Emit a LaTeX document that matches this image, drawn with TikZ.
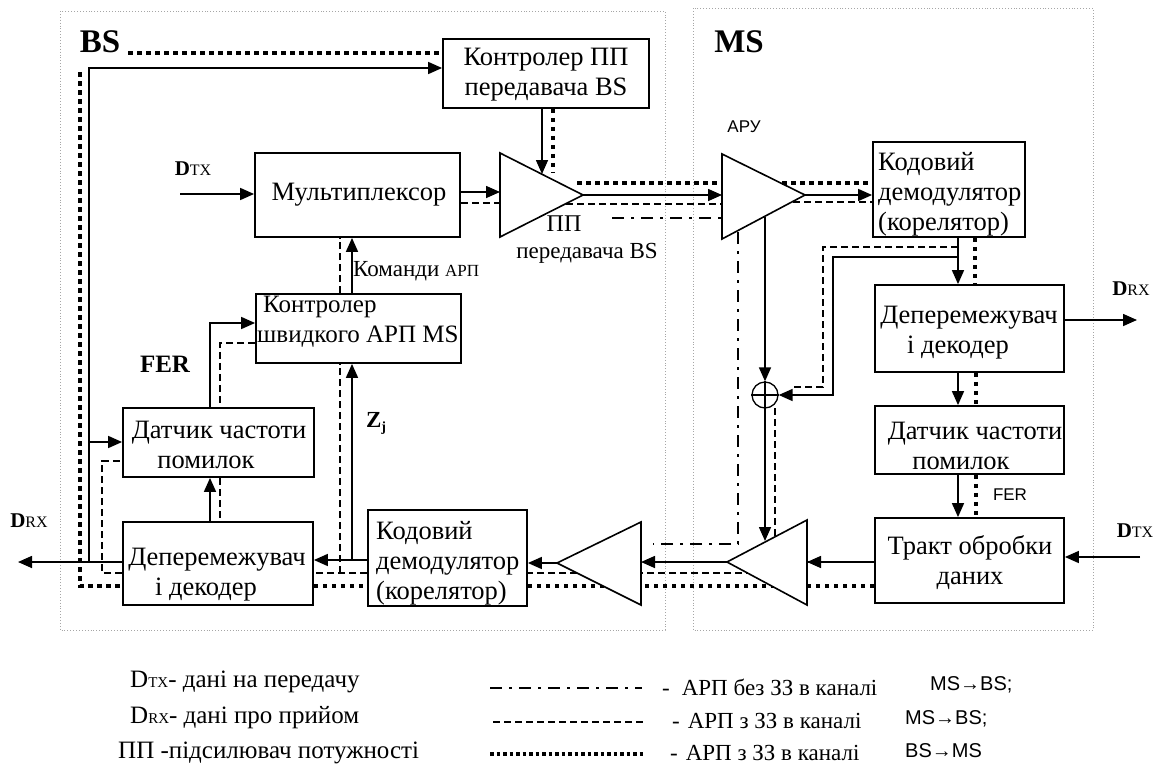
\documentclass[tikz,border=0pt]{standalone}
\usepackage{fontspec}
\setmainfont{Liberation Serif}
\setsansfont{Liberation Sans}
\usetikzlibrary{arrows.meta,calc}
\begin{document}
\begin{tikzpicture}[x=1pt,y=-1pt,
  blk/.style={draw, line width=1.8pt, rectangle, inner sep=0pt},
  txt/.style={inner sep=0pt, font=\fontsize{26.5}{30}\selectfont, align=center},
  txtl/.style={txt, align=left},
  amp/.style={draw, line width=1.6pt, fill=white, line join=miter},
  conn/.style={line width=1.6pt},
  arr/.style={conn, -{Triangle[length=14pt,width=12pt]}},
  fb/.style={line width=1.3pt, dash pattern=on 7pt off 4pt},
  dd/.style={line width=2.6pt, dash pattern=on 12pt off 7pt on 3pt off 7pt},
  thk/.style={line width=4.5pt, dash pattern=on 4.5pt off 4.5pt},
  zone/.style={draw=gray!70, line width=0.9pt, dotted},
  sub/.style={inner sep=0pt},
]
\useasboundingbox (0,0) rectangle (1157,771);

% station zones
\draw[zone] (60,11) rectangle (665,630);
\draw[zone] (693,8) rectangle (1093,630);
\node[sub, font=\fontsize{33}{33}\selectfont\bfseries] (bs-lab) at (100,42) {BS};
\node[sub, font=\fontsize{33}{33}\selectfont\bfseries] (ms-lab) at (739,42) {MS};

% blocks
\node[blk, minimum width=206pt, minimum height=69pt] (ctrlpp) at (546,73.5) {};
\node[blk, minimum width=205pt, minimum height=84pt] (mux) at (357.5,195) {};
\node[blk, minimum width=205pt, minimum height=69pt] (cfast) at (358.5,328.5) {};
\node[blk, minimum width=191pt, minimum height=69pt] (fdet) at (218.5,442.5) {};
\node[blk, minimum width=190pt, minimum height=83pt] (deint) at (218,563.5) {};
\node[blk, minimum width=159pt, minimum height=96pt] (dem) at (447.5,558) {};
\node[blk, minimum width=152pt, minimum height=95pt] (mdem) at (949,189.5) {};
\node[blk, minimum width=189pt, minimum height=87pt] (mdeint) at (969.5,328.5) {};
\node[blk, minimum width=189pt, minimum height=68pt] (mfdet) at (969.5,440) {};
\node[blk, minimum width=189pt, minimum height=85pt] (trakt) at (969.5,560.5) {};

% block texts
\node[txt] (ctrlpp-t) at (546,75) {Контролер ПП\\передавача BS};
\node[txt] (mux-t) at (359,195) {Мультиплексор};
\node[txtl, anchor=west, font=\fontsize{25}{30}\selectfont] (cfast-t) at (257,322) {\hspace*{6pt}Контролер\\швидкого АРП MS};
\node[txt] (fdet-t) at (219,445) {Датчик частоти\\помилок\hspace*{26pt}};
\node[txt] (deint-t) at (217,575) {Деперемежувач\\і декодер\hspace*{22pt}};
\node[txtl, anchor=west] (dem-t) at (376,563) {Кодовий\\демодулятор\\(корелятор)};
\node[txtl, anchor=west] (mdem-t) at (878,194) {Кодовий\\демодулятор\\(корелятор)};
\node[txt] (mdeint-t) at (969,333) {Деперемежувач\\і декодер\hspace*{22pt}};
\node[txt] (mfdet-t) at (975,446) {Датчик частоти\\помилок\hspace*{28pt}};
\node[txt] (trakt-t) at (970,563) {Тракт обробки\\даних};

% amplifier vertices
\coordinate (pa-t) at (500,153); \coordinate (pa-b) at (500,237); \coordinate (pa-tip) at (583,195);
\coordinate (agc-t) at (722,154); \coordinate (agc-b) at (722,239); \coordinate (agc-tip) at (805,195);
\coordinate (mtx-tip) at (727,562); \coordinate (mtx-t) at (807,520); \coordinate (mtx-b) at (807,605);
\coordinate (brx-tip) at (557,563); \coordinate (brx-t) at (641,522); \coordinate (brx-b) at (641,605);

% loops that pass behind the receive/transmit amplifiers
\draw[thk] (trakt.west |- 0,586) -- (dem.east |- 0,586);
\draw[fb] (775,408) -- (775,573) -- (dem.east |- 0,573);
\draw[conn] (trakt.west |- mtx-tip) -- (mtx-t |- mtx-tip);

% amplifiers
\draw[amp] (pa-t) -- (pa-tip) -- (pa-b) -- cycle;
\draw[amp] (agc-t) -- (agc-tip) -- (agc-b) -- cycle;
\draw[amp] (mtx-tip) -- (mtx-t) -- (mtx-b) -- cycle;
\draw[amp] (brx-tip) -- (brx-t) -- (brx-b) -- cycle;
\node[draw, circle, line width=1.3pt, minimum size=26pt, inner sep=0pt, fill=white] (add) at (765,395) {};
\draw[line width=1.1pt] (add.north) -- (add.south) (add.west) -- (add.east);

% solid signal paths
\coordinate (dtx-in) at (180,194);
\draw[arr] (dtx-in) -- (mux.west |- dtx-in);
\coordinate (pa-in) at (500,192);
\draw[arr] (mux.east |- pa-in) -- (pa-in);
\coordinate (pa-ctl) at (542,174);
\draw[arr] (ctrlpp.south -| pa-ctl) -- (pa-ctl);
\draw[arr] (pa-tip) -- (agc-t |- pa-tip);
\draw[arr] (agc-tip) -- (mdem.west |- agc-tip);
\coordinate (agc-o) at (765,217);
\draw[arr] (agc-o) -- (add.north);
\coordinate (mtx-ctl) at (765,541);
\draw[arr] (add.south) -- (mtx-ctl);
\coordinate (mdem-o) at (958,237);
\draw[arr] (mdem-o) -- (mdeint.north -| mdem-o);
\draw[arr] (958,257) -- (833,257) -- (833,395) -- (add.east);
\coordinate (drx-ms) at (1137,320);
\draw[arr] (mdeint.east |- drx-ms) -- (drx-ms);
\draw[arr] (mdeint.south -| mdem-o) -- (mfdet.north -| mdem-o);
\draw[arr] (mfdet.south -| mdem-o) -- (trakt.north -| mdem-o);
\coordinate (dtx-ms) at (1140,557);
\draw[arr] (dtx-ms) -- (trakt.east |- dtx-ms);
\draw[arr] (trakt.west |- mtx-tip) -- (mtx-t |- mtx-tip);
\draw[arr] (mtx-tip) -- (brx-t |- mtx-tip);
\draw[arr] (brx-tip) -- (dem.east |- brx-tip);
\coordinate (dem-o) at (368,560);
\draw[arr] (dem-o) -- (deint.east |- dem-o);
\coordinate (zj) at (352,560);
\draw[arr] (zj) -- (cfast.south -| zj);
\draw[arr] (cfast.north -| zj) -- (mux.south -| zj);
\draw[arr] (fdet.north -| 210,0) -- (210,323) -- (cfast.west |- 0,323);
\draw[arr] (deint.north -| 210,0) -- (fdet.south -| 210,0);
\coordinate (drx-bs) at (18,562);
\draw[arr] (deint.west |- drx-bs) -- (drx-bs);
\draw[arr] (89,562) -- (89,68) -- (ctrlpp.west |- 0,68);
\draw[arr] (89,442) -- (fdet.west |- 0,442);

% closed loop with error correction, MS -> BS (dashed)
\draw[fb] (mux.east |- 0,203) -- (pa-b |- 0,203);
\draw[fb] (566,204) -- (agc-b |- 0,204);
\draw[fb] (793,202) -- (mdem.west |- 0,202);
\draw[fb] (958,247) -- (823,247) -- (823,387) -- (791,387);
\draw[fb] (dem.west |- 0,573) -- (deint.east |- 0,573);
\draw[fb] (340,573) -- (cfast.south -| 340,0);
\draw[fb] (cfast.north -| 340,0) -- (mux.south -| 340,0);
\draw[fb] (cfast.west |- 0,343) -- (220,343) -- (fdet.north -| 220,0);
\draw[fb] (fdet.south -| 220,0) -- (deint.north -| 220,0);
\draw[fb] (deint.west |- 0,573) -- (102,573) -- (102,461) -- (fdet.west |- 0,461);

% loop without error correction, MS -> BS (dash-dot)
\draw[dd] (612,218) -- (agc-t |- 0,218);
\draw[dd] (738,232) -- (738,544) -- (653,544);

% loop with error correction, BS -> MS (heavy dotted)
\draw[thk] (128,53) -- (ctrlpp.west |- 0,53);
\draw[thk] (80,72) -- (80,586) -- (deint.west |- 0,586);
\draw[thk] (deint.east |- 0,586) -- (dem.west |- 0,586);
\draw[thk] (ctrlpp.south -| 553,0) -- (553,172);
\draw[thk] (577,183) -- (agc-t |- 0,183);
\draw[thk] (782,183) -- (mdem.west |- 0,183);
\draw[thk] (mdem.south -| 975,0) -- (mdeint.north -| 975,0);
\draw[thk] (mdeint.south -| 976,0) -- (mfdet.north -| 976,0);
\draw[thk] (mfdet.south -| 976,0) -- (trakt.north -| 976,0);

% signal labels
\node[sub] (dtx-bs-l) at (193,169) {\fontsize{21}{21}\selectfont\bfseries D\fontsize{16}{16}\selectfont\mdseries TX};
\node[sub] (drx-bs-l) at (29,521) {\fontsize{21}{21}\selectfont\bfseries D\fontsize{16}{16}\selectfont\mdseries RX};
\node[sub] (drx-ms-l) at (1131,289) {\fontsize{21}{21}\selectfont\bfseries D\fontsize{16}{16}\selectfont\mdseries RX};
\node[sub] (dtx-ms-l) at (1135,531) {\fontsize{21}{21}\selectfont\bfseries D\fontsize{16}{16}\selectfont\mdseries TX};
\node[sub, font=\fontsize{25}{25}\selectfont\bfseries] (fer-bs) at (165,364) {FER};
\node[sub, font=\fontsize{17}{17}\selectfont\sffamily] (fer-ms) at (1010,495) {FER};
\node[sub] (zj-l) at (376,423) {\fontsize{23}{23}\selectfont\bfseries Z\raisebox{-4pt}{\fontsize{14}{14}\selectfont j}};
\node[sub, anchor=west] (cmd-l) at (353,271) {\fontsize{23}{23}\selectfont Команди \fontsize{17}{17}\selectfont АРП};
\node[sub, font=\fontsize{24}{24}\selectfont] (pp-l1) at (564,224) {ПП};
\node[sub, font=\fontsize{23}{23}\selectfont] (pp-l2) at (587,253) {передавача BS};
\node[sub, font=\fontsize{17}{17}\selectfont\sffamily] (agc-l) at (744,127) {АРУ};

% legend
\node[sub, anchor=west, font=\fontsize{25}{25}\selectfont] (leg-dtx) at (130,682) {D{\fontsize{15}{15}\selectfont TX}- дані на передачу};
\node[sub, anchor=west, font=\fontsize{25}{25}\selectfont] (leg-drx) at (130,718) {D{\fontsize{15}{15}\selectfont RX}- дані про прийом};
\node[sub, anchor=west, font=\fontsize{25}{25}\selectfont] (leg-pp) at (118,753) {ПП -підсилювач потужності};
\coordinate (lg1a) at (490,688); \coordinate (lg1b) at (642,688);
\coordinate (lg2a) at (493,722); \coordinate (lg2b) at (645,722);
\coordinate (lg3a) at (490,754); \coordinate (lg3b) at (645,754);
\draw[dd, line width=2.2pt] (lg1a) -- (lg1b);
\draw[fb] (lg2a) -- (lg2b);
\draw[line width=3.5pt, dash pattern=on 3.5pt off 3pt] (lg3a) -- (lg3b);
\node[sub, anchor=west, font=\fontsize{23}{23}\selectfont] (leg-t1) at (662,687) {-\hspace{12pt}АРП без ЗЗ в каналі};
\node[sub, anchor=west, font=\fontsize{23}{23}\selectfont] (leg-t2) at (672,721) {-\hspace{8pt}АРП з ЗЗ в каналі};
\node[sub, anchor=west, font=\fontsize{23}{23}\selectfont] (leg-t3) at (670,753) {-\hspace{8pt}АРП з ЗЗ в каналі};
\node[sub, anchor=west, font=\fontsize{20}{20}\selectfont\sffamily] (leg-d1) at (930,685) {MS→BS;};
\node[sub, anchor=west, font=\fontsize{20}{20}\selectfont\sffamily] (leg-d2) at (905,719) {MS→BS;};
\node[sub, anchor=west, font=\fontsize{20}{20}\selectfont\sffamily] (leg-d3) at (905,751) {BS→MS};
\end{tikzpicture}
\end{document}
